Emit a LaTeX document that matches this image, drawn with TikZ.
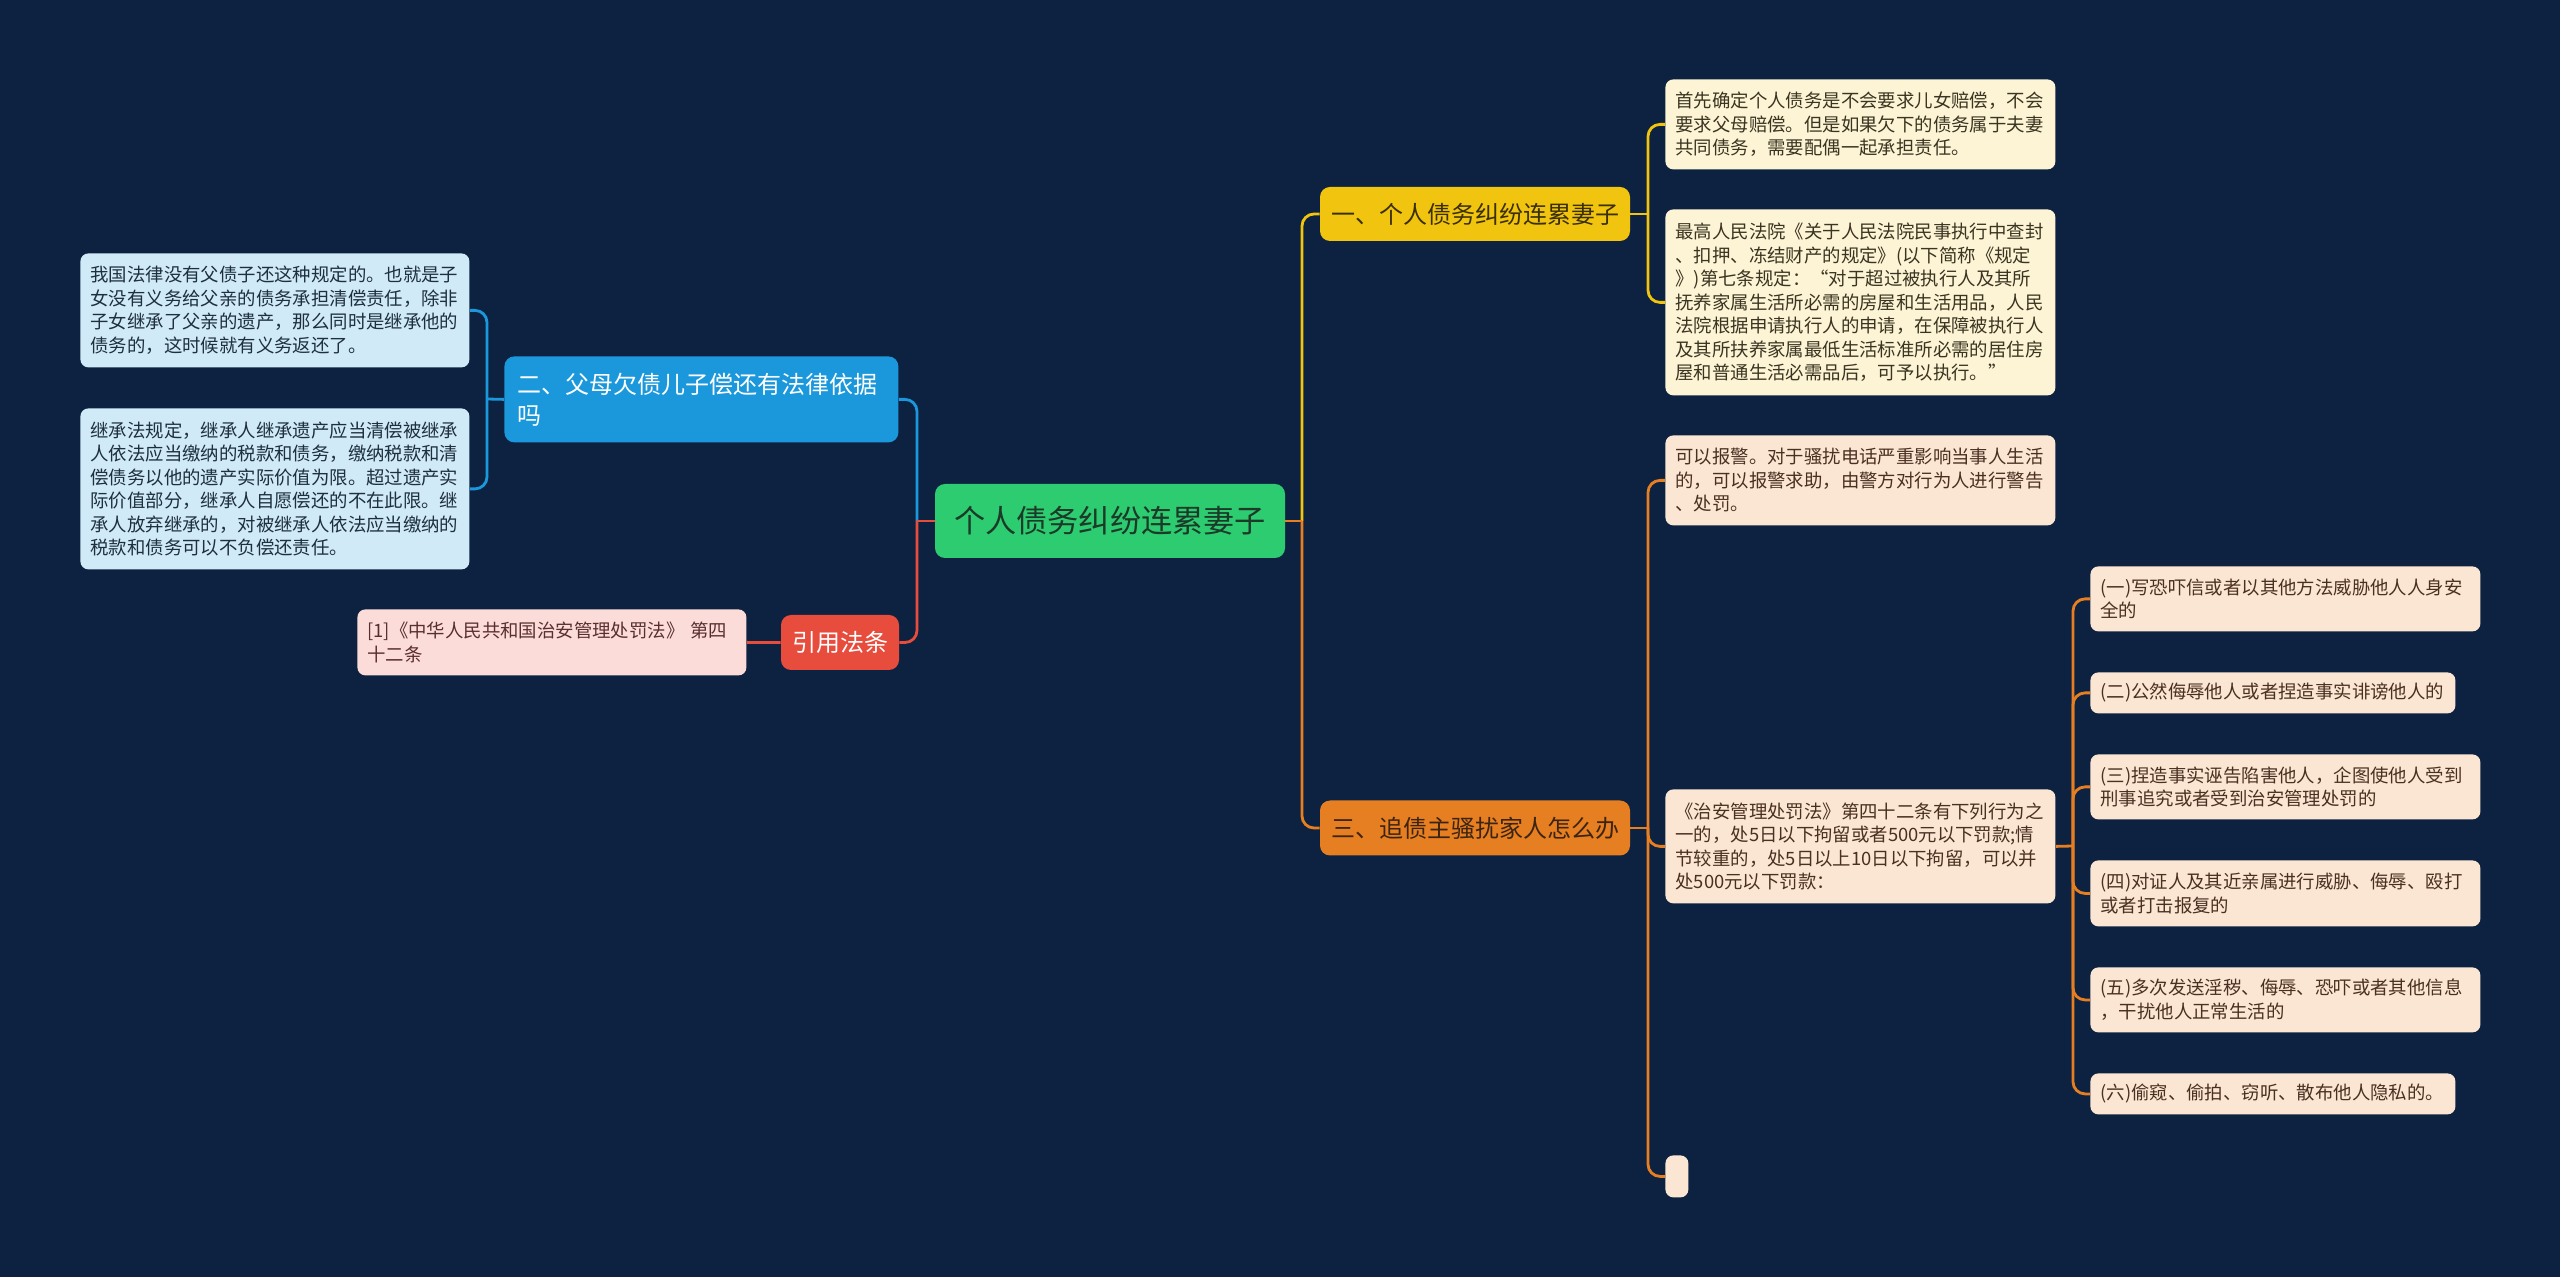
\documentclass[tikz,border=0pt]{standalone}
\usepackage{fontspec}
\setmainfont{Noto Sans CJK SC}
\definecolor{bg}{HTML}{0D2240}
\definecolor{cgreen}{HTML}{2ECC71}
\definecolor{cgreentxt}{HTML}{1B3A28}
\definecolor{cyel}{HTML}{F1C40F}
\definecolor{cyeltxt}{HTML}{3A2F05}
\definecolor{cyelleaf}{HTML}{FCF4D4}
\definecolor{cyelleaftxt}{HTML}{3B3422}
\definecolor{corg}{HTML}{E67E22}
\definecolor{corgtxt}{HTML}{3D2410}
\definecolor{corgleaf}{HTML}{FBE6D4}
\definecolor{corgleaftxt}{HTML}{4A3020}
\definecolor{cblue}{HTML}{1B98DB}
\definecolor{cblueleaf}{HTML}{D0EAF8}
\definecolor{cblueleaftxt}{HTML}{1E2F3D}
\definecolor{cred}{HTML}{E74C3C}
\definecolor{credleaf}{HTML}{FBDCD8}
\definecolor{credleaftxt}{HTML}{5A2E2E}
\tikzset{
  rootbox/.style={fill=cgreen, text=cgreentxt, rounded corners=5pt, inner sep=0pt,
    minimum width=175pt, minimum height=37pt, font=\fontsize{15.6pt}{18pt}\selectfont},
  mainbox/.style={rounded corners=5pt, inner sep=0pt, font=\fontsize{12pt}{15.5pt}\selectfont},
  leafbox/.style={rounded corners=4pt, inner xsep=5pt, inner ysep=0pt, align=left,
    text width=185pt, anchor=north west, font=\fontsize{9.2pt}{11.75pt}\selectfont},
  yleaf/.style={leafbox, fill=cyelleaf, text=cyelleaftxt},
  oleaf/.style={leafbox, fill=corgleaf, text=corgleaftxt},
  bleaf/.style={leafbox, fill=cblueleaf, text=cblueleaftxt},
  rleaf/.style={leafbox, fill=credleaf, text=credleaftxt},
  conn/.style={line width=1.4pt},
  rc/.style={conn, rounded corners=6pt},
}
\begin{document}
\begin{tikzpicture}[x=0.5pt, y=-0.5pt]
\fill[bg] (0,0) rectangle (2560,1277);
\useasboundingbox (0,0) rectangle (2560,1277);

% root
\node[rootbox] (C) at (1110,521) {个人债务纠纷连累妻子};

% main branches
\node[mainbox, fill=cyel, text=cyeltxt, minimum width=155pt, minimum height=27pt] (B1) at (1475,214) {一、个人债务纠纷连累妻子};
\node[mainbox, fill=corg, text=corgtxt, minimum width=155pt, minimum height=27.5pt] (B3) at (1475,828) {三、追债主骚扰家人怎么办};
\node[mainbox, fill=cblue, text=white, anchor=north west, inner xsep=6.5pt, text width=184pt, align=left, minimum height=43pt] (B2) at (504,356) {二、父母欠债儿子偿还有法律依据\\吗};
\node[mainbox, fill=cred, text=white, minimum width=59pt, minimum height=27.5pt] (B4) at (840,642.5) {引用法条};

% leaves of B1
\node[yleaf, minimum height=45pt] (L1a) at (1665,79) {首先确定个人债务是不会要求儿女赔偿，不会\\要求父母赔偿。但是如果欠下的债务属于夫妻\\共同债务，需要配偶一起承担责任。};
\node[yleaf, minimum height=93pt] (L1b) at (1665,209) {最高人民法院《关于人民法院民事执行中查封\\、扣押、冻结财产的规定》(以下简称《规定\\》)第七条规定：“对于超过被执行人及其所\\抚养家属生活所必需的房屋和生活用品，人民\\法院根据申请执行人的申请，在保障被执行人\\及其所扶养家属最低生活标准所必需的居住房\\屋和普通生活必需品后，可予以执行。”};

% leaves of B3
\node[oleaf, minimum height=45pt] (L3a) at (1665,435) {可以报警。对于骚扰电话严重影响当事人生活\\的，可以报警求助，由警方对行为人进行警告\\、处罚。};
\node[oleaf, minimum height=57pt] (L3b) at (1665,789) {《治安管理处罚法》第四十二条有下列行为之\\一的，处5日以下拘留或者500元以下罚款;情\\节较重的，处5日以上10日以下拘留，可以并\\处500元以下罚款：};
\node[fill=corgleaf, rounded corners=4pt, inner sep=0pt, minimum width=11.5pt, minimum height=21pt, anchor=north west] (L3c) at (1665,1155) {};

% sub items of L3b
\node[oleaf, minimum height=32.5pt] (S1) at (2090,566) {(一)写恐吓信或者以其他方法威胁他人人身安\\全的};
\node[oleaf, text width=172.5pt, minimum height=20.5pt] (S2) at (2090,672) {(二)公然侮辱他人或者捏造事实诽谤他人的};
\node[oleaf, minimum height=32.5pt] (S3) at (2090,754) {(三)捏造事实诬告陷害他人，企图使他人受到\\刑事追究或者受到治安管理处罚的};
\node[oleaf, minimum height=33pt] (S4) at (2090,860) {(四)对证人及其近亲属进行威胁、侮辱、殴打\\或者打击报复的};
\node[oleaf, minimum height=32.5pt] (S5) at (2090,967) {(五)多次发送淫秽、侮辱、恐吓或者其他信息\\，干扰他人正常生活的};
\node[oleaf, text width=172.5pt, minimum height=20.5pt] (S6) at (2090,1073) {(六)偷窥、偷拍、窃听、散布他人隐私的。};

% leaves of B2
\node[bleaf, text width=184.5pt, minimum height=57pt] (L2a) at (80,253) {我国法律没有父债子还这种规定的。也就是子\\女没有义务给父亲的债务承担清偿责任，除非\\子女继承了父亲的遗产，那么同时是继承他的\\债务的，这时候就有义务返还了。};
\node[bleaf, text width=184.5pt, minimum height=80.5pt] (L2b) at (80,408) {继承法规定，继承人继承遗产应当清偿被继承\\人依法应当缴纳的税款和债务，缴纳税款和清\\偿债务以他的遗产实际价值为限。超过遗产实\\际价值部分，继承人自愿偿还的不在此限。继\\承人放弃继承的，对被继承人依法应当缴纳的\\税款和债务可以不负偿还责任。};

% leaf of B4
\node[rleaf, text width=184.5pt, minimum height=33pt] (L4a) at (357,609) {[1]《中华人民共和国治安管理处罚法》 第四\\十二条};

% junction coordinates
\coordinate (tR) at (1302,521);
\coordinate (tL) at (917,521);
\coordinate (j1) at (1648,214);
\coordinate (j3) at (1648,828);
\coordinate (j4) at (2073,846);
\coordinate (j2) at (487,399);

% right side connectors
\draw[rc, cyel] (tR) |- (B1.west);
\draw[rc, corg] (tR) |- (B3.west);
\draw[conn, corg] (C.east) -- (tR);

\draw[conn, cyel] (B1.east) -- (j1);
\draw[rc, cyel] (j1) |- (L1a.west);
\draw[rc, cyel] (j1) |- (L1b.west);

\draw[conn, corg] (B3.east) -- (j3);
\draw[rc, corg] (j3) |- (L3a.west);
\draw[rc, corg] (j3) |- (L3b.west);
\draw[rc, corg] (j3) |- (L3c.west);

\draw[conn, corg] (L3b.east) -- (j4);
\draw[rc, corg] (j4) |- (S1.west);
\draw[rc, corg] (j4) |- (S2.west);
\draw[rc, corg] (j4) |- (S3.west);
\draw[rc, corg] (j4) |- (S4.west);
\draw[rc, corg] (j4) |- (S5.west);
\draw[rc, corg] (j4) |- (S6.west);

% left side connectors
\draw[rc, cblue] (tL) |- (B2.east);
\draw[rc, cred] (tL) |- (B4.east);
\draw[conn, cred] (C.west) -- (tL);

\draw[conn, cblue] (B2.west) -- (j2);
\draw[rc, cblue] (j2) |- (L2a.east);
\draw[rc, cblue] (j2) |- (L2b.east);

\draw[conn, cred] (B4.west) -- (L4a.east);
\end{tikzpicture}
\end{document}
